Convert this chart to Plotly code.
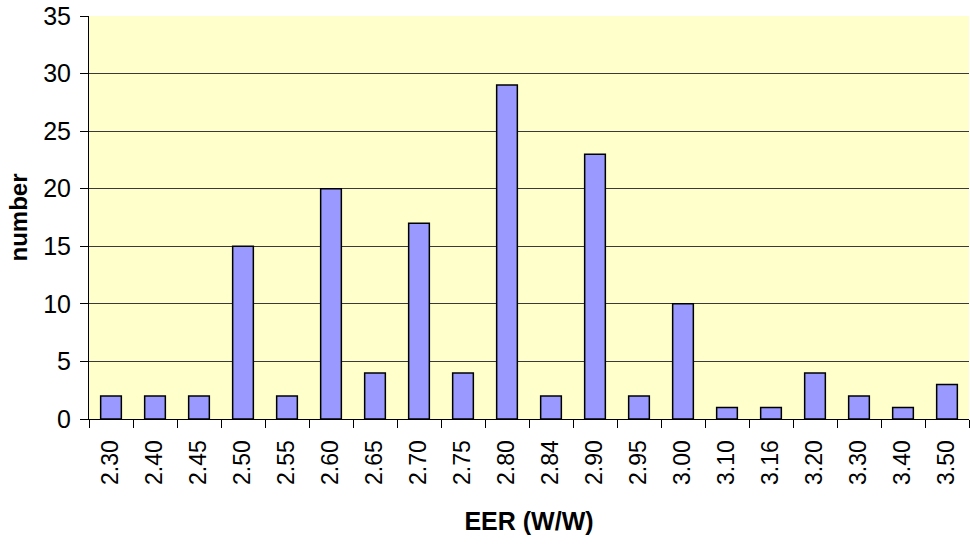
import plotly.graph_objects as go

# EER classes and the number of units in each
eer_labels = ["2.30", "2.40", "2.45", "2.50", "2.55", "2.60", "2.65", "2.70", "2.75", "2.80",
              "2.84", "2.90", "2.95", "3.00", "3.10", "3.16", "3.20", "3.30", "3.40", "3.50"]
counts = [2, 2, 2, 15, 2, 20, 4, 17, 4, 29, 2, 23, 2, 10, 1, 1, 4, 2, 1, 3]
y_ticks = [0, 5, 10, 15, 20, 25, 30, 35]

fig = go.Figure(go.Bar(x=eer_labels, y=counts,
                       marker_color='#9999FF',
                       marker_line_color='black',
                       marker_line_width=1.5))

fig.update_layout(width=970, height=544,
                  margin=dict(l=89, r=1, t=16, b=125),
                  plot_bgcolor='#FFFFCC',
                  paper_bgcolor='white',
                  bargap=0.53,
                  showlegend=False,
                  font=dict(family='Liberation Sans, Arial', size=22, color='black'))

fig.update_xaxes(type='category',
                 tickangle=-90,
                 ticks='outside', tickson='boundaries', ticklen=8, tickcolor='black',
                 linecolor='black', linewidth=1,
                 showgrid=False,
                 ticklabelstandoff=11,
                 title=dict(text='<b>EER (W/W)</b>', font=dict(size=25), standoff=28),
                 tickfont=dict(size=23))

fig.update_yaxes(range=[0, 35], tickvals=y_ticks,
                 ticks='outside', ticklen=8, tickcolor='black',
                 linecolor='black', linewidth=1,
                 showgrid=True, gridcolor='#3a3a3a', gridwidth=1,
                 zeroline=False,
                 ticklabelstandoff=4,
                 title=dict(text='<b>number</b>', font=dict(size=24), standoff=8),
                 tickfont=dict(size=25))

# drop the page's default 8px body margin so the figure sits at 0,0
fig.write_html("out.html", config={'displayModeBar': False},
               post_script="document.body.style.margin='0';")
